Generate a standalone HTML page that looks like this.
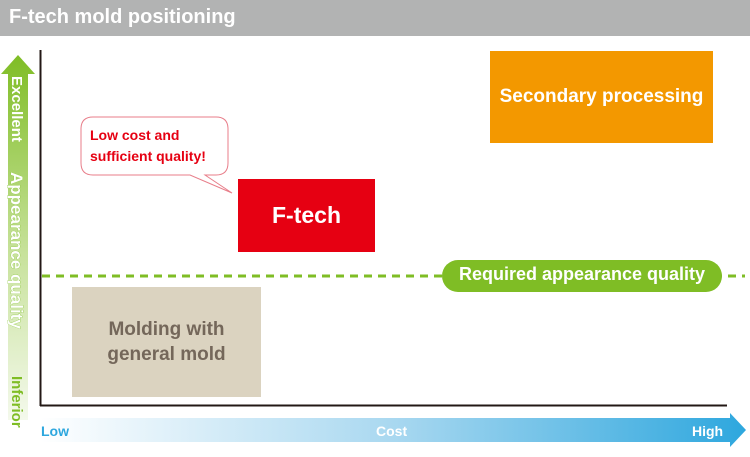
<!DOCTYPE html>
<html><head><style>
body{margin:0;width:750px;height:457px;background:#fff;position:relative;overflow:hidden;font-family:"Liberation Sans",sans-serif;font-weight:bold}
.a{position:absolute}
</style></head><body>
<div class="a" style="left:0;top:0;width:750px;height:36px;background:#b2b3b3"></div>
<div class="a" style="left:9px;top:6px;color:#fff;font-size:20px">F-tech mold positioning</div>
<svg class="a" style="left:0;top:0" width="750" height="457" font-family="Liberation Sans" font-weight="bold">
<defs>
<linearGradient id="g" x1="0" y1="0" x2="0" y2="1"><stop offset="0" stop-color="#7fbd25"/><stop offset="0.55" stop-color="#c8e29c"/><stop offset="1" stop-color="#f4f9ec"/></linearGradient>
<linearGradient id="b" x1="0" y1="0" x2="1" y2="0"><stop offset="0" stop-color="#fff"/><stop offset="0.5" stop-color="#a9d8f0"/><stop offset="1" stop-color="#2ea7de"/></linearGradient>
</defs>
<polygon points="18,55 35,74 28,74 28,420 8,420 8,74 1,74" fill="url(#g)"/>
<polygon points="40,418 730,418 730,413 746,430 730,447 730,442 40,442" fill="url(#b)"/>
<line x1="40.5" y1="50" x2="40.5" y2="406" stroke="#231815" stroke-width="2"/>
<line x1="40" y1="405.5" x2="727" y2="405.5" stroke="#231815" stroke-width="2"/>
<line x1="42" y1="276" x2="745" y2="276" stroke="#7fbd25" stroke-width="3" stroke-dasharray="8,6"/>
<rect x="442" y="260" width="280" height="32" rx="16" fill="#7fbd25"/>
<path d="M93,117 H216 Q228,117 228,129 V163 Q228,175 216,175 H205 L232,193 L190,175 H93 Q81,175 81,163 V129 Q81,117 93,117Z" fill="#fff" stroke="#e87e8a" stroke-width="1"/>
<text x="12" y="76" transform="rotate(90 12 76)" fill="#fff" font-size="15">Excellent</text>
<text x="11" y="172" transform="rotate(90 11 172)" fill="#fff" stroke="#8cc63f" stroke-width="0.6" paint-order="stroke" font-size="17">Appearance quality</text>
<text x="12" y="376" transform="rotate(90 12 376)" fill="#7fbd25" font-size="15">Inferior</text>
</svg>
<div class="a" style="left:490px;top:51px;width:223px;height:92px;background:#f39800;color:#fff;font-size:19px;display:flex;align-items:center;justify-content:center">Secondary processing</div>
<div class="a" style="left:238px;top:179px;width:137px;height:73px;background:#e60012;color:#fff;font-size:23px;display:flex;align-items:center;justify-content:center">F-tech</div>
<div class="a" style="left:72px;top:287px;width:189px;height:110px;background:#dbd3c0;color:#74675a;font-size:19px;display:flex;align-items:center;justify-content:center;text-align:center;line-height:25px">Molding with<br>general mold</div>
<div class="a" style="left:90px;top:125px;color:#e60012;font-size:14px;line-height:21px">Low cost and<br>sufficient quality!</div>
<div class="a" style="left:442px;top:264px;width:280px;text-align:center;color:#fff;font-size:18px">Required appearance quality</div>
<div class="a" style="left:41px;top:423px;color:#2ea7de;font-size:14px">Low</div>
<div class="a" style="left:376px;top:423px;color:#fff;font-size:14px">Cost</div>
<div class="a" style="left:692px;top:423px;color:#fff;font-size:14px">High</div>
</body></html>
